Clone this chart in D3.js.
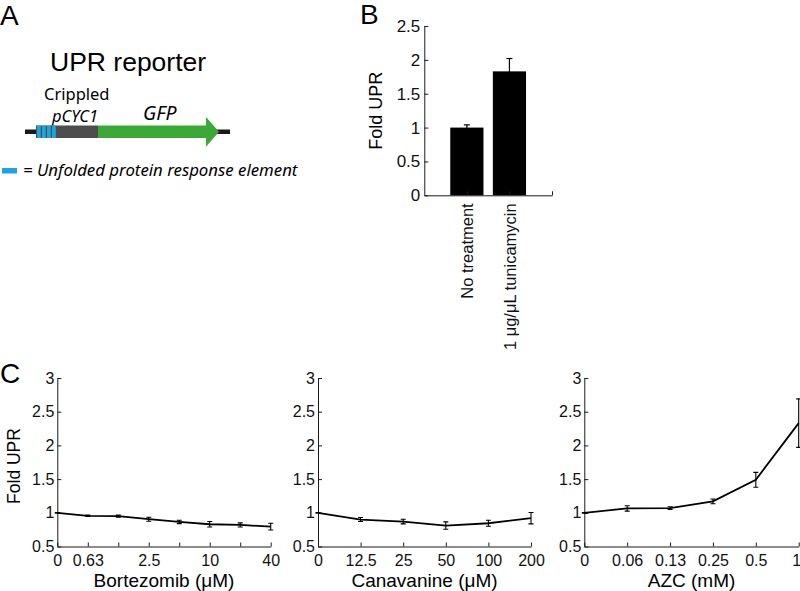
<!DOCTYPE html>
<html><head><meta charset="utf-8">
<script src="https://cdn.jsdelivr.net/npm/d3@7"></script>
<style>body{margin:0;background:#fff} svg{display:block}</style>
</head><body><svg id="c" width="800" height="591"></svg>
<script>
// ---------- Panel A: construct schematic (construct units) ----------
const constructLength = [0, 205];
const uprElements = [[11, 16], [16, 21], [21, 26], [26, 31]];
const promoterPart = [31, 73];
const gfpPart = [73, 181];
const gfpArrowTip = 194;

// ---------- Panel B ----------
const barCategories = ["No treatment", "1 \u03bcg/\u03bcL tunicamycin"];
const barValues = [1.0, 1.83];
const barErrors = [0.04, 0.19];
const barYTicks = [0, 0.5, 1, 1.5, 2, 2.5];

// ---------- Panel C ----------
const bortezomibLabels = ["0", "0.63", "", "2.5", "", "10", "", "40"];
const bortezomibValues = [1.0, 0.955, 0.95, 0.905, 0.865, 0.83, 0.82, 0.795];
const bortezomibErrors = [0.005, 0.01, 0.015, 0.03, 0.025, 0.04, 0.03, 0.05];
const canavanineLabels = ["0", "12.5", "25", "50", "100", "200"];
const canavanineValues = [1.0, 0.90, 0.87, 0.81, 0.845, 0.92];
const canavanineErrors = [0.005, 0.03, 0.035, 0.055, 0.045, 0.085];
const azcLabels = ["0", "0.06", "0.13", "0.25", "0.5", "1"];
const azcValues = [1.0, 1.065, 1.07, 1.17, 1.49, 2.33];
const azcErrors = [0.005, 0.04, 0.02, 0.035, 0.11, 0.36];
const foldYTicks = [0.5, 1, 1.5, 2, 2.5, 3];

const svg = d3.select("#c");
const SANS = "'Liberation Sans', Arial, Helvetica, sans-serif";
const MYR = "'Noto Sans', 'Open Sans', sans-serif";
const AX = "#1a1a1a";

// Panel letters
[["A", 0, 25], ["B", 360, 24], ["C", 0, 383]].forEach(([t, x, y]) =>
  svg.append("text").attr("x", x).attr("y", y).attr("font-family", SANS)
    .attr("font-size", 28).attr("fill", "#000").text(t));

// ---------- Panel A ----------
const xa = d3.scaleLinear().domain(constructLength).range([25, 230]);
const gA = svg.append("g");
gA.append("text").attr("x", 50).attr("y", 71).attr("font-family", SANS)
  .attr("font-size", 26.5).text("UPR reporter");
gA.append("text").attr("x", 44).attr("y", 100).attr("font-family", MYR)
  .attr("font-size", 16.5).text("Crippled");
gA.append("text").attr("x", 52).attr("y", 122).attr("font-family", MYR)
  .attr("font-style", "italic").attr("font-size", 16.5).text("pCYC1");
gA.append("text").attr("x", 143).attr("y", 120).attr("font-family", MYR)
  .attr("font-style", "italic").attr("font-size", 19.5).text("GFP");
// backbone line
gA.append("rect").attr("x", xa(constructLength[0])).attr("y", 129.5)
  .attr("width", xa(constructLength[1]) - xa(constructLength[0])).attr("height", 4.5).attr("fill", "#1a1a1a");
// promoter (grey)
gA.append("rect").attr("x", xa(uprElements[0][0])).attr("y", 125.5)
  .attr("width", xa(promoterPart[1]) - xa(uprElements[0][0])).attr("height", 12.5).attr("fill", "#4d4d4d");
// UPR elements (blue stripes)
gA.selectAll(".upre").data(uprElements).join("rect")
  .attr("x", d => xa(d[0]) + 1).attr("y", 125.5)
  .attr("width", d => xa(d[1]) - xa(d[0]) - 1.2).attr("height", 12.5).attr("fill", "#1ba6e0");
// GFP arrow
const gfpPath = d3.path();
gfpPath.moveTo(xa(gfpPart[0]), 125.5);
gfpPath.lineTo(xa(gfpPart[1]), 125.5);
gfpPath.lineTo(xa(gfpPart[1]), 117);
gfpPath.lineTo(xa(gfpArrowTip), 131.8);
gfpPath.lineTo(xa(gfpPart[1]), 146.7);
gfpPath.lineTo(xa(gfpPart[1]), 138);
gfpPath.lineTo(xa(gfpPart[0]), 138);
gfpPath.closePath();
gA.append("path").attr("d", gfpPath.toString()).attr("fill", "#3aa935");
// legend
gA.append("rect").attr("x", 2).attr("y", 168).attr("width", 15).attr("height", 5.5).attr("fill", "#1ba6e0");
gA.append("text").attr("x", 23).attr("y", 176).attr("font-family", MYR)
  .attr("font-style", "italic").attr("font-size", 16.8).text("= Unfolded protein response element");

// ---------- Panel B ----------
const xb = d3.scaleLinear().domain([0, 3]).range([424.3, 552]);
const yb = d3.scaleLinear().domain([0, 2.5]).range([195.3, 26]);
const gB = svg.append("g");
gB.selectAll(".bar").data(barValues).join("rect")
  .attr("x", (d, i) => xb(i + 1 - 0.39)).attr("width", xb(0.78) - xb(0))
  .attr("y", d => yb(d)).attr("height", d => yb(0) - yb(d)).attr("fill", "#000");
barValues.forEach((v, i) => {
  const cx = xb(i + 1);
  gB.append("line").attr("x1", cx).attr("x2", cx).attr("y1", yb(v - barErrors[i])).attr("y2", yb(v + barErrors[i]))
    .attr("stroke", "#000").attr("stroke-width", 1.2);
  gB.append("line").attr("x1", cx - 3).attr("x2", cx + 3).attr("y1", yb(v + barErrors[i])).attr("y2", yb(v + barErrors[i]))
    .attr("stroke", "#000").attr("stroke-width", 1.2);
});
const axBL = gB.append("g").attr("transform", `translate(${xb(0)},0)`)
  .call(d3.axisLeft(yb).tickValues(barYTicks).tickFormat(d => String(d)).tickSizeInner(-4).tickSizeOuter(0).tickPadding(4));
const axBB = gB.append("g").attr("transform", `translate(0,${yb(0)})`)
  .call(d3.axisBottom(xb).tickValues([1, 2, 3]).tickFormat(d => barCategories[d - 1] || "").tickSizeInner(-4).tickSizeOuter(0));
[axBL, axBB].forEach(a => {
  a.attr("font-family", SANS).attr("font-size", 17);
  a.selectAll("path,line").attr("stroke", AX);
  a.selectAll("text").attr("fill", "#111");
});
axBB.selectAll("text").attr("font-size", 16.5).attr("text-anchor", "end")
  .attr("transform", "rotate(-90)").attr("x", -8).attr("y", 0).attr("dy", "0.36em");
svg.append("text").attr("transform", `translate(382,${(yb(0) + yb(2.5)) / 2}) rotate(-90)`)
  .attr("text-anchor", "middle").attr("font-family", SANS).attr("font-size", 18).text("Fold UPR");

// ---------- Panel C ----------
const yc = d3.scaleLinear().domain([0.5, 3]).range([546.5, 378]);
function linePanel(x0, x1, labels, values, errors, xlabel) {
  const g = svg.append("g");
  const x = d3.scaleLinear().domain([0, labels.length - 1]).range([x0, x1]);
  const aL = g.append("g").attr("transform", `translate(${x0},0)`)
    .call(d3.axisLeft(yc).tickValues(foldYTicks).tickFormat(d => String(d)).tickSizeInner(-4).tickSizeOuter(0).tickPadding(3));
  const aB = g.append("g").attr("transform", `translate(0,${yc(0.5)})`)
    .call(d3.axisBottom(x).tickValues(d3.range(labels.length)).tickFormat(i => labels[i]).tickSizeInner(-4).tickSizeOuter(0).tickPadding(8));
  [aL, aB].forEach(a => {
    a.attr("font-family", SANS).attr("font-size", 16);
    a.selectAll("path,line").attr("stroke", AX);
    a.selectAll("text").attr("fill", "#111");
  });
  // keep last tick label inside the page
  aB.selectAll("text").filter((d, i, n) => x(d) > 795).attr("dx", -2.5);
  g.append("path").datum(values)
    .attr("d", d3.line().x((d, i) => x(i)).y(d => yc(d)))
    .attr("fill", "none").attr("stroke", "#000").attr("stroke-width", 1.8);
  values.forEach((v, i) => {
    const cx = x(i), e = errors[i];
    const p = d3.path();
    p.moveTo(cx, yc(v - e)); p.lineTo(cx, yc(v + e));
    p.moveTo(cx - 2.5, yc(v - e)); p.lineTo(cx + 2.5, yc(v - e));
    p.moveTo(cx - 2.5, yc(v + e)); p.lineTo(cx + 2.5, yc(v + e));
    g.append("path").attr("d", p.toString()).attr("stroke", "#000").attr("stroke-width", 1.1).attr("fill", "none");
  });
  g.append("text").attr("x", (x0 + x1) / 2).attr("y", 587).attr("text-anchor", "middle")
    .attr("font-family", SANS).attr("font-size", 19).text(xlabel);
}
linePanel(57.3, 270.7, bortezomibLabels, bortezomibValues, bortezomibErrors, "Bortezomib (\u03bcM)");
linePanel(318, 531, canavanineLabels, canavanineValues, canavanineErrors, "Canavanine (\u03bcM)");
linePanel(584.3, 798.7, azcLabels, azcValues, azcErrors, "AZC (mM)");
svg.append("text").attr("transform", `translate(20,466) rotate(-90)`)
  .attr("text-anchor", "middle").attr("font-family", SANS).attr("font-size", 17.5).text("Fold UPR");
</script></body></html>
